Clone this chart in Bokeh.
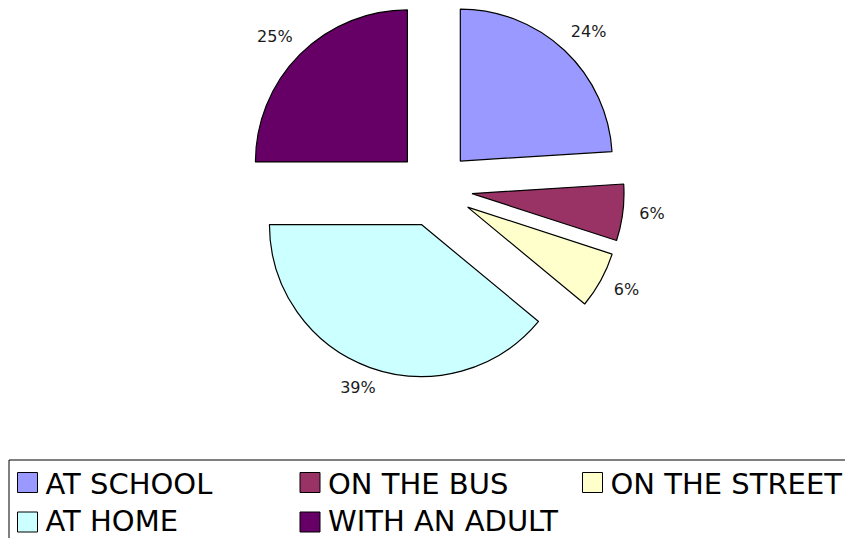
import numpy as np
from bokeh.plotting import figure
from bokeh.models import Range1d, ColumnDataSource
from bokeh.core.properties import value
from bokeh.embed import file_html
from bokeh.resources import INLINE

# ---- data ----
categories = ["AT SCHOOL", "ON THE BUS", "ON THE STREET", "AT HOME", "WITH AN ADULT"]
values = [24, 6, 6, 39, 25]
colors = ["#9999FF", "#993366", "#FFFFCC", "#CCFFFF", "#660066"]

# ---- layout ----
W, H = 845, 538
p = figure(width=W, height=H, x_range=Range1d(0, W), y_range=Range1d(-H, 0),
           output_backend="svg", toolbar_location=None, min_border=0,
           x_axis_type=None, y_axis_type=None)
p.grid.visible = False
p.outline_line_color = None
p.background_fill_color = "white"

cx, cy = 433.8, -188.3
r = 152
explode = 38

vals = np.array(values, dtype=float)
frac = vals / vals.sum()
cum = np.cumsum(frac)
start = np.concatenate([[0.0], cum[:-1]])
mid = start + frac / 2
a_start = np.pi / 2 - 2 * np.pi * start
a_end = np.pi / 2 - 2 * np.pi * cum
a_mid = np.pi / 2 - 2 * np.pi * mid

wx = cx + explode * np.cos(a_mid)
wy = cy + explode * np.sin(a_mid)

src = ColumnDataSource(dict(x=wx, y=wy, s=a_start, e=a_end, c=colors, name=categories))
p.wedge(x="x", y="y", radius=r, start_angle="s", end_angle="e", direction="clock",
        fill_color="c", line_color="black", line_width=1.2, source=src)

# ---- percentage labels ----
fs = 16
labels = [f"{round(f * 100)}%" for f in frac]
R0 = 207
ux, uy = np.cos(a_mid), np.sin(a_mid)
tw = np.array([0.77 * fs * len(t) for t in labels])
th = 12
lx = cx + R0 * ux + tw / 2 * ux
ly = cy + R0 * uy + th / 2 * uy + 0.1 * fs
p.text(x=lx, y=ly, text=labels, text_align="center", text_baseline="middle",
       text_font=value("DejaVu Sans"), text_font_size=f"{fs}px", text_color="#1a1a1a")

# ---- legend ----
p.quad(left=8.5, right=W + 100, top=-459.5, bottom=-(H + 100),
       fill_color=None, line_color="black", line_width=1)

ncols = 3
col_w = 282.5
sq_row_h = 39.5
txt_row_h = 37.5
sq = 20
lfs = 29
cols = np.array([i % ncols for i in range(len(categories))])
rows = np.array([i // ncols for i in range(len(categories))])
sx = 17 + sq / 2 + cols * col_w
sy = -(482 + rows * sq_row_h)
p.rect(x=sx, y=sy, width=sq, height=sq, fill_color=colors, line_color="black", line_width=1)
tx = 17 + sq + 8 + cols * col_w
ty = -(483 + rows * txt_row_h)
p.text(x=tx, y=ty, text=categories, text_align="left", text_baseline="middle",
       text_font=value("DejaVu Sans"), text_font_size=f"{lfs}px", text_color="black")

open("out.html", "w").write(file_html(p, INLINE))
